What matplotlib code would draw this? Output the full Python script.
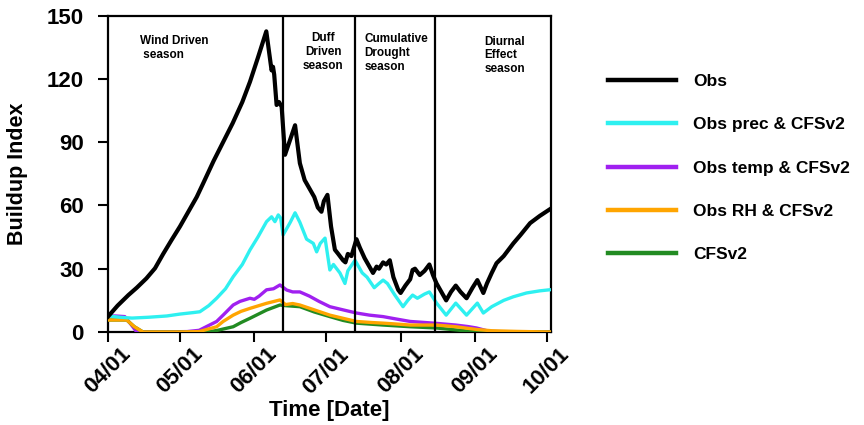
import matplotlib
matplotlib.use("Agg")
import matplotlib.pyplot as plt
from matplotlib.lines import Line2D
import matplotlib.transforms as mtransforms

plt.rcParams['font.family'] = ['Liberation Sans', 'DejaVu Sans']
plt.rcParams['font.weight'] = 'bold'

# Days counted from April 1
tick_days = [0, 30, 61, 91, 122, 153, 183]
tick_labels = ["04/01", "05/01", "06/01", "07/01", "08/01", "09/01", "10/01"]
season_bounds = [73, 103, 136.5]

obs_days = [0, 4, 8.5, 12, 16, 19.6, 23, 26.5, 30, 33.5, 37, 39.7, 44, 48, 52, 56, 59.2, 62.5,
            66, 68.2, 68.8, 69.3, 70.3, 71.3, 72.4, 73.8, 75, 78, 80, 82, 84, 86, 87.5, 89,
            90, 91.5, 93, 94.6, 96, 98, 99, 100, 101.5, 103.6, 105, 107, 109, 110.5, 112,
            113, 114.7, 116, 117.5, 119, 121, 122, 124, 126, 127, 128, 130, 132, 134, 135.5,
            137, 139, 141, 143, 145, 147, 149.5, 152, 154, 156.5, 158, 160, 162, 165, 169,
            172, 176, 180, 184]
obs_vals = [7.3, 12.5, 17.5, 21, 25.4, 30.2, 37, 43.6, 50, 57, 64, 70.5, 81, 90, 99, 109, 118.6, 130,
            142.5, 124, 125.7, 122, 107.6, 109, 106.8, 84, 88, 98, 80, 72, 68, 64, 59, 57,
            62, 65, 50, 39, 37, 34, 33, 37, 36, 44, 40, 35, 31, 28, 31,
            30, 33, 32, 34, 26, 20, 18.5, 22, 25, 29.4, 30, 27, 29, 32, 27,
            23, 19, 15, 19, 22, 19, 16, 21, 24.6, 18.5, 23, 28, 32.6, 36, 42,
            46, 51.6, 55, 58]

prec_days = [0, 5, 10, 17, 24.5, 30, 35.5, 38.3, 42, 45.3, 49, 52.2, 56, 59.2, 62.5, 66.1, 68.2,
             69.6, 71, 72, 73, 76, 78, 80, 82.8, 85.6, 87, 88.5, 90.5, 92.5, 94, 96.7, 98.8,
             100, 103, 106, 108, 111, 113, 114.7, 116.5, 119.6, 123, 125, 127, 129, 132, 134,
             137, 141, 145, 149.5, 154, 156.5, 160, 165, 169, 174.5, 180, 184]
prec_vals = [7.6, 7, 6.6, 7, 7.6, 8.5, 9.2, 9.6, 12.5, 16, 20.5, 26.2, 32, 38.9, 45, 52.3, 54.6,
             52.3, 55.5, 54, 46, 52, 56.5, 52, 44, 42, 38, 42, 44.5, 29.4, 32, 28, 23,
             29, 34, 28, 26, 21, 23, 24.6, 23, 17.5, 12, 15, 17.5, 16, 18, 19,
             13.7, 8, 13.7, 8, 13.7, 9, 12, 15, 16.7, 18.5, 19.5, 20]

temp_days = [0, 3, 7, 10, 12, 20, 33, 38, 45.3, 48, 52.2, 55, 59.2, 61, 63, 66.1, 69, 71.7, 74.5,
             77, 80, 84, 88, 92.5, 98, 103.6, 109, 114.7, 120, 126, 131, 137, 145, 150, 153.7,
             159, 170, 184]
temp_vals = [7.6, 7.6, 7.3, 3, 0, 0, 0.2, 0.8, 5, 8, 12.8, 14.5, 16, 15.5, 17, 20, 20.5, 22.3, 19.9,
             19, 19, 17, 14.5, 12, 10.5, 9, 8, 7.3, 6.2, 5, 4.6, 4.1, 3.3, 2.6, 1.9,
             0.3, 0, 0]

rh_days = [0, 4, 7.8, 11, 14.6, 30, 38, 45.3, 48, 52.2, 55.5, 59.2, 66.1, 71.7, 74, 77, 80, 86,
           92.5, 98, 103.6, 110, 114.7, 120, 126, 137, 145, 153.7, 160, 170, 184]
rh_vals = [5.7, 5.7, 5.7, 2.5, 0, 0, 0.2, 2.5, 5, 8, 9.8, 11.2, 13.6, 15.2, 13, 13.5, 12.8, 10.5,
           8, 6.5, 5, 4.5, 4.2, 3.8, 3.3, 3.3, 2.5, 1.2, 0.6, 0.3, 0]

cfs_days = [0, 7.8, 11, 14.6, 41, 45.3, 52.2, 55.5, 59.2, 66.1, 71.7, 74, 80, 86, 92.5, 98,
            103.6, 114.7, 126, 137, 145, 153.7, 184]
cfs_vals = [5.7, 5.7, 2.5, 0, 0, 0.7, 2.5, 4.5, 6.5, 10.4, 12.8, 12.5, 12, 9.5, 7.3, 5.5,
            4.2, 3.3, 2.5, 1.9, 1, 0, 0]

series_names = ["Obs", "Obs prec & CFSv2", "Obs temp & CFSv2", "Obs RH & CFSv2", "CFSv2"]
series_colors = ["black", "#2ef0f0", "#a020f0", "#ffa500", "#228b22"]

fig = plt.figure(figsize=(8.64, 4.25), dpi=100)
ax = fig.add_axes([0.125, 0.2188, 0.5127, 0.7447])

ax.plot(obs_days, obs_vals, color=series_colors[0], lw=3.0, zorder=3)
ax.plot(prec_days, prec_vals, color=series_colors[1], lw=2.4, zorder=2.9)
ax.plot(temp_days, temp_vals, color=series_colors[2], lw=2.4, zorder=2.6)
ax.plot(cfs_days, cfs_vals, color=series_colors[4], lw=2.4, zorder=2.7)
ax.plot(rh_days, rh_vals, color=series_colors[3], lw=2.4, zorder=2.8)

for b in season_bounds:
    ax.axvline(b, color="black", lw=1.6, zorder=4)

txt_kw = dict(fontsize=8.5, fontweight="bold", va="top", linespacing=1.2)
ax.text(13.3, 140.8, "Wind Driven\n season", ha="left", **txt_kw)
ax.text(89.8, 142.0, "Duff\nDriven\nseason", ha="center", multialignment="center", **txt_kw)
ax.text(107, 141.5, "Cumulative\nDrought\nseason", ha="left", **txt_kw)
ax.text(157, 140.5, "Diurnal\nEffect\nseason", ha="left", **txt_kw)

ax.set_xlim(0, 184.7)
ax.set_ylim(0, 150)
ax.set_yticks([0, 30, 60, 90, 120, 150])
ax.set_xticks(tick_days)
ax.set_xticklabels(tick_labels, rotation=45, ha="center", va="top")
offset = mtransforms.ScaledTranslation(5 / 72, 0, fig.dpi_scale_trans)
for lab in ax.get_xticklabels():
    lab.set_transform(lab.get_transform() + offset)

ax.tick_params(axis="both", direction="out", length=7.5, width=1.5, labelsize=16)
ax.tick_params(axis="y", pad=10)
ax.tick_params(axis="x", pad=1)
for lab in ax.get_xticklabels() + ax.get_yticklabels():
    lab.set_fontweight("bold")
for sp in ax.spines.values():
    sp.set_linewidth(1.6)

ax.set_ylabel("Buildup Index", fontsize=15.5, fontweight="bold")
ax.yaxis.set_label_coords(-0.18, 0.5)
ax.set_xlabel("Time [Date]", fontsize=16, fontweight="bold", va="top")
ax.xaxis.set_label_coords(0.5, -0.215)

handles = [Line2D([], [], color=c, lw=3.2) for c in series_colors]
fig.legend(handles, series_names, loc="upper left", bbox_to_anchor=(0.7035, 0.826),
           frameon=False, handlelength=3.9, handletextpad=1.0,
           labelspacing=1.62, borderpad=0, borderaxespad=0,
           prop={"weight": "bold", "size": 12.5})

fig.savefig("out.png", dpi=100)
